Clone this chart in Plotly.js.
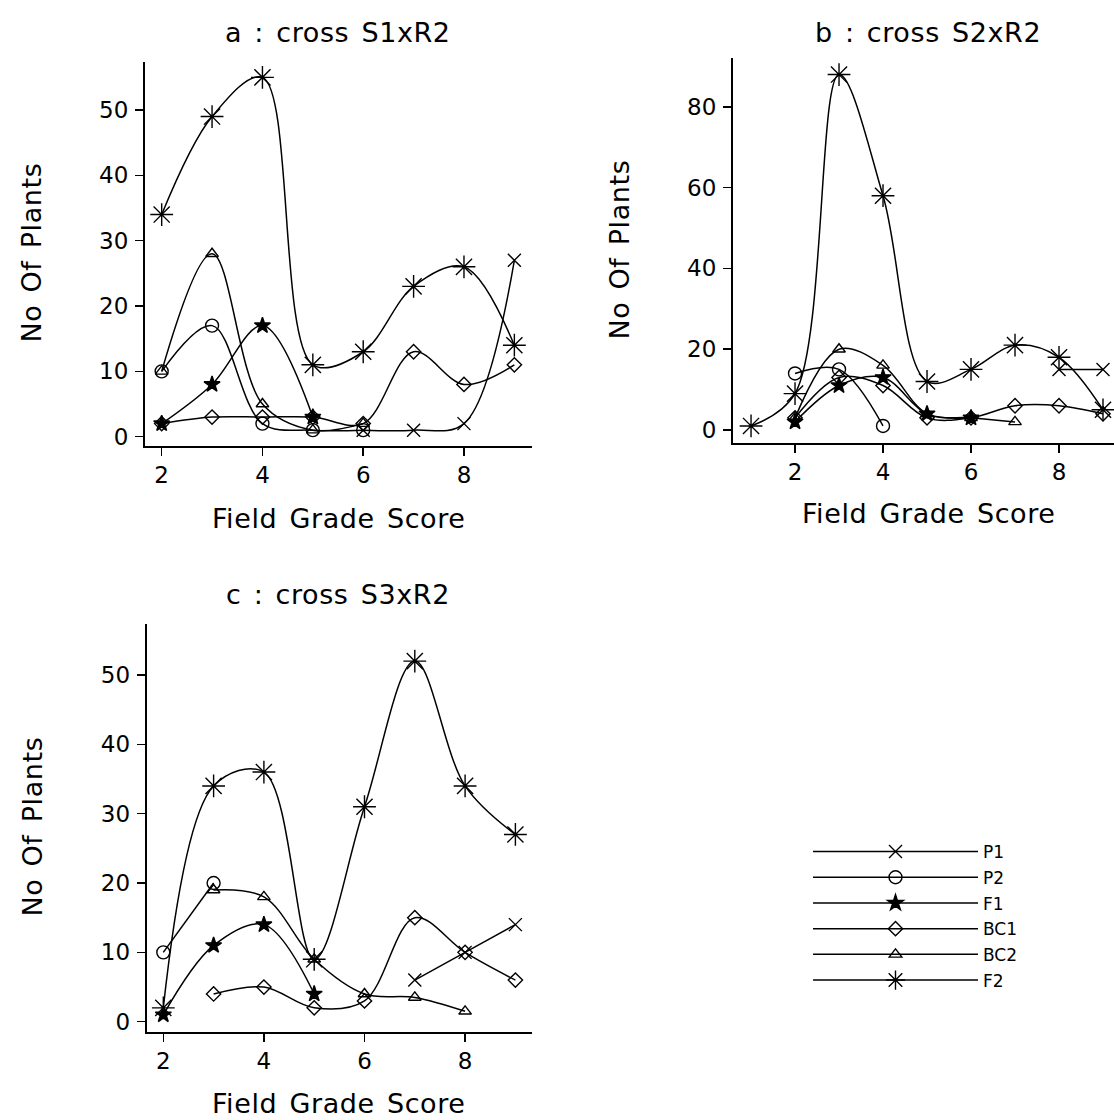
<!DOCTYPE html>
<html><head><meta charset="utf-8">
<script src="https://cdn.plot.ly/plotly-3.0.1.min.js"></script>
<style>
html,body{margin:0;padding:0;background:#fff;}
#chart{width:1114px;height:1120px;}
#chart .annotation-text{letter-spacing:0.6px;word-spacing:3px;}
</style>
</head><body><div id="chart"></div>
<script>
// Field grade scores (x)
const scores = [1, 2, 3, 4, 5, 6, 7, 8, 9];
const seriesNames = ['P1', 'P2', 'F1', 'BC1', 'BC2', 'F2'];

// Panel a : cross S1xR2
const a_P1  = [null, null, null, null, null, 1, 1, 2, 27];
const a_P2  = [null, 10, 17, 2, 1, 1, null, null, null];
const a_F1  = [null, 2, 8, 17, 3, null, null, null, null];
const a_BC1 = [null, 2, 3, 3, 3, 2, 13, 8, 11];
const a_BC2 = [null, 10, 28, 5, 1, 2, null, null, null];
const a_F2  = [null, 34, 49, 55, 11, 13, 23, 26, 14];

// Panel b : cross S2xR2
const b_P1  = [null, null, null, null, null, null, null, 15, 15];
const b_P2  = [null, 14, 15, 1, null, null, null, null, null];
const b_F1  = [null, 2, 11, 13, 4, 3, null, null, null];
const b_BC1 = [null, 3, 13, 11, 3, 3, 6, 6, 4];
const b_BC2 = [null, 3, 20, 16, 4, 3, 2, null, null];
const b_F2  = [1, 9, 88, 58, 12, 15, 21, 18, 5];

// Panel c : cross S3xR2
const c_P1  = [null, null, null, null, null, null, 6, 10, 14];
const c_P2  = [null, 10, 20, null, null, null, null, null, null];
const c_F1  = [null, 1, 11, 14, 4, null, null, null, null];
const c_BC1 = [null, null, 4, 5, 2, 3, 15, 10, 6];
const c_BC2 = [null, null, 19, 18, 9, 4, 3.5, 1.5, null];
const c_F2  = [null, 2, 34, 36, 9, 31, 52, 34, 27];

const panelTitles = ['a : cross S1xR2', 'b : cross S2xR2', 'c : cross S3xR2'];
const xTitle = 'Field Grade Score';
const yTitle = 'No Of Plants';

const panels = [
  {key: '', data: [a_P1, a_P2, a_F1, a_BC1, a_BC2, a_F2], legend: true},
  {key: '2', data: [b_P1, b_P2, b_F1, b_BC1, b_BC2, b_F2], legend: false},
  {key: '3', data: [c_P1, c_P2, c_F1, c_BC1, c_BC2, c_F2], legend: false}
];

const markerStyles = [
  {symbol: 'x-thin-open', size: 13},
  {symbol: 'circle-open', size: 13},
  {symbol: 'star', size: 12},
  {symbol: 'diamond-open', size: 11},
  {symbol: 'triangle-up-open', size: 11},
  {symbol: 'asterisk-open', size: 19}
];

const W = 1114, H = 1120;
const px = v => v / W;
const py = v => 1 - v / H;

const traces = [];
panels.forEach(p => {
  p.data.forEach((ys, i) => {
    const ms = markerStyles[i];
    traces.push({
      type: 'scatter', mode: 'lines+markers',
      x: scores, y: ys, name: seriesNames[i],
      legendgroup: seriesNames[i], showlegend: p.legend,
      xaxis: 'x' + p.key, yaxis: 'y' + p.key,
      connectgaps: false,
      line: {color: '#000', width: 1.5, shape: 'spline', smoothing: 1},
      marker: {symbol: ms.symbol, size: ms.size, color: '#000',
               line: {color: '#000', width: 1.4}},
      cliponaxis: false
    });
  });
});

const tickFont = {family: 'DejaVu Sans', stretch: 'condensed', size: 23, color: '#000'};
const labelFont = {family: 'DejaVu Sans', size: 27, color: '#000'};

function xax(domain, range, anchor) {
  return {domain: domain, range: range, anchor: anchor, showline: true, linewidth: 2, linecolor: '#000',
    ticks: 'outside', ticklen: 8, tickwidth: 1.5, tickcolor: '#000', showgrid: false, zeroline: false,
    tick0: 0, dtick: 2, tickfont: tickFont, ticklabelstandoff: 0, fixedrange: true};
}
function yax(domain, range, anchor, dtick) {
  return {domain: domain, range: range, anchor: anchor, showline: true, linewidth: 2, linecolor: '#000',
    ticks: 'outside', ticklen: 8, tickwidth: 1.5, tickcolor: '#000', showgrid: false, zeroline: false,
    tick0: 0, dtick: dtick, tickfont: tickFont, ticklabelstandoff: 2, fixedrange: true};
}

const ann = (text, x, y, angle) => ({text: text, xref: 'paper', yref: 'paper', x: px(x), y: py(y),
  xanchor: 'center', yanchor: 'middle', showarrow: false, font: labelFont, textangle: angle || 0});

const layout = {
  width: W, height: H,
  margin: {l: 0, r: 0, t: 0, b: 0},
  paper_bgcolor: '#fff', plot_bgcolor: 'rgba(0,0,0,0)',
  font: {family: 'DejaVu Sans', color: '#000'},
  xaxis:  xax([px(145), px(532)], [1.669, 9.35], 'y'),
  yaxis:  yax([py(445.7), py(62)], [-1.38, 57.35], 'x', 10),
  xaxis2: xax([px(733), 1], [0.59, 9.25], 'y2'),
  yaxis2: yax([py(442.7), py(58)], [-3.15, 92.1], 'x2', 20),
  xaxis3: xax([px(146.7), px(532)], [1.67, 9.33], 'y3'),
  yaxis3: yax([py(1031.7), py(624)], [-1.44, 57.35], 'x3', 10),
  showlegend: true,
  legend: {x: px(808), y: py(834), xanchor: 'left', yanchor: 'top',
    bgcolor: 'rgba(0,0,0,0)', borderwidth: 0, itemwidth: 165, tracegroupgap: 0.6,
    font: {family: 'DejaVu Sans', size: 17, color: '#000'},
    itemclick: false, itemdoubleclick: false},
  annotations: [
    ann(panelTitles[0], 338, 32),
    ann(panelTitles[1], 928, 32),
    ann(panelTitles[2], 338, 594),
    ann(xTitle, 339, 518),
    ann(xTitle, 928, 513),
    ann(xTitle, 339, 1103),
    ann(yTitle, 32, 253, -90),
    ann(yTitle, 620, 250, -90),
    ann(yTitle, 32, 827, -90)
  ]
};

Plotly.newPlot('chart', traces, layout, {displayModeBar: false, staticPlot: true});
</script></body></html>
